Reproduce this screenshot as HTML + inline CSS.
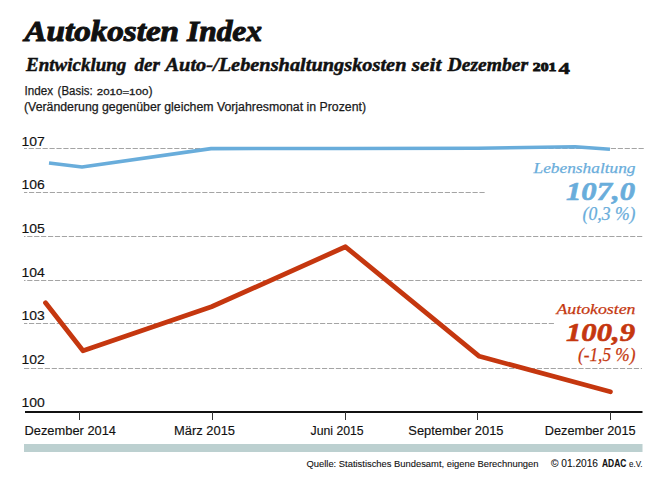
<!DOCTYPE html>
<html><head><meta charset="utf-8">
<style>
html,body{margin:0;padding:0;background:#fff;}
body{width:668px;height:490px;overflow:hidden;}
svg{display:block;}
text{font-family:"Liberation Sans",sans-serif;}
.serif{font-family:"Liberation Serif",serif;}
</style></head><body>
<svg width="668" height="490" viewBox="0 0 668 490">
<rect width="668" height="490" fill="#fff"/>
<!-- title -->
<g class="serif" font-size="28.5" font-weight="bold" font-style="italic" fill="#111" stroke="#111" stroke-width="1">
<text class="serif" x="24.5" y="41.4" textLength="154.5" lengthAdjust="spacingAndGlyphs">Autokosten</text>
<text class="serif" x="187" y="41.4" textLength="75" lengthAdjust="spacingAndGlyphs">Index</text>
</g>
<g class="serif" font-size="18.2" font-weight="bold" font-style="italic" fill="#111" stroke="#111" stroke-width="0.45">
<text id="s1" class="serif" x="26" y="71.3" textLength="100.3" lengthAdjust="spacingAndGlyphs">Entwicklung</text>
<text id="s2" class="serif" x="134.6" y="71.3" textLength="25.4" lengthAdjust="spacingAndGlyphs">der</text>
<text id="s3" class="serif" x="165.5" y="71.3" textLength="241" lengthAdjust="spacingAndGlyphs">Auto-/Lebenshaltungskosten</text>
<text id="s4" class="serif" x="411.8" y="71.3" textLength="29.5" lengthAdjust="spacingAndGlyphs">seit</text>
<text id="s5" class="serif" x="447.6" y="71.3" textLength="80.5" lengthAdjust="spacingAndGlyphs">Dezember</text>
<text id="s6" class="serif" x="532.8" y="70.9" font-size="13.3" font-style="normal" stroke-width="0.9" textLength="23.6" lengthAdjust="spacingAndGlyphs">201</text>
<text id="s7" class="serif" x="558.6" y="73.6" font-size="17" font-style="normal" stroke-width="0.6" textLength="11.4" lengthAdjust="spacingAndGlyphs">4</text>
</g>
<g fill="#1a1a1a" stroke="#1a1a1a" stroke-width="0.25">
<text id="i1" x="24.5" y="94.6" font-size="12.3" textLength="28.5" lengthAdjust="spacingAndGlyphs">Index</text>
<text id="i2" x="57.6" y="94.6" font-size="12.3" textLength="35" lengthAdjust="spacingAndGlyphs">(Basis:</text>
<text id="i3" x="96.8" y="94.6" font-size="9.5" stroke-width="0.3" textLength="51.5" lengthAdjust="spacingAndGlyphs">2010=100</text>
<text id="i4" x="148.6" y="94.6" font-size="12.3">)</text>
<text id="v1" x="24" y="110.5" font-size="12.3" textLength="342" lengthAdjust="spacingAndGlyphs">(Veränderung gegenüber gleichem Vorjahresmonat in Prozent)</text>
</g>

<!-- gridlines -->
<g stroke="#a4a4a4" stroke-width="1" stroke-dasharray="5.2 1.73" fill="none">
<line x1="24" y1="148.5" x2="644" y2="148.5" stroke-dashoffset="2.23"/>
<line x1="24" y1="192.5" x2="485" y2="192.5" stroke-dashoffset="1.93"/>
<line x1="24" y1="236.5" x2="643" y2="236.5" stroke-dashoffset="3.73"/>
<line x1="24" y1="280.5" x2="642" y2="280.5" stroke-dashoffset="3.73"/>
<line x1="24" y1="323.5" x2="554" y2="323.5" stroke-dashoffset="1.93"/>
<line x1="23" y1="368.5" x2="642" y2="368.5" stroke-dashoffset="5.93"/>
</g>
<!-- y labels -->
<g font-size="13" fill="#111" stroke="#111" stroke-width="0.15">
<text x="21.4" y="145.7" textLength="23.3" lengthAdjust="spacingAndGlyphs">107</text>
<text x="21.4" y="189.3" textLength="23.3" lengthAdjust="spacingAndGlyphs">106</text>
<text x="21.4" y="232.9" textLength="23.3" lengthAdjust="spacingAndGlyphs">105</text>
<text x="21.4" y="276.7" textLength="23.3" lengthAdjust="spacingAndGlyphs">104</text>
<text x="21.4" y="319.8" textLength="23.3" lengthAdjust="spacingAndGlyphs">103</text>
<text x="21.4" y="363.6" textLength="23.3" lengthAdjust="spacingAndGlyphs">102</text>
<text x="21.4" y="407" textLength="23.3" lengthAdjust="spacingAndGlyphs">100</text>
</g>
<!-- axis -->
<line x1="25" y1="412" x2="642.5" y2="412" stroke="#111" stroke-width="2"/>
<g stroke="#333" stroke-width="1">
<line x1="79.5" y1="412" x2="79.5" y2="420"/>
<line x1="212.5" y1="412" x2="212.5" y2="420"/>
<line x1="345.5" y1="412" x2="345.5" y2="420"/>
<line x1="477.5" y1="412" x2="477.5" y2="420"/>
<line x1="610.5" y1="412" x2="610.5" y2="420"/>
</g>
<g font-size="12.5" fill="#111" stroke="#111" stroke-width="0.15">
<text x="24.5" y="435" textLength="91.5" lengthAdjust="spacingAndGlyphs">Dezember 2014</text>
<text x="174" y="435" textLength="61" lengthAdjust="spacingAndGlyphs">März 2015</text>
<text x="310.5" y="435" textLength="53.2" lengthAdjust="spacingAndGlyphs">Juni 2015</text>
<text x="408.3" y="435" textLength="95.2" lengthAdjust="spacingAndGlyphs">September 2015</text>
<text x="544.8" y="435" textLength="90.8" lengthAdjust="spacingAndGlyphs">Dezember 2015</text>
</g>
<!-- bar -->
<rect x="24" y="444" width="618.5" height="8" fill="#bcd0d0"/>
<!-- footer -->
<g fill="#111" stroke="#111" stroke-width="0.1">
<text x="306.5" y="466.5" font-size="9.5" textLength="232" lengthAdjust="spacingAndGlyphs">Quelle: Statistisches Bundesamt, eigene Berechnungen</text>
<text x="551" y="466.5" font-size="10" textLength="47" lengthAdjust="spacingAndGlyphs">© 01.2016</text>
<text x="602" y="466.5" font-size="10.5" font-weight="bold" textLength="24.3" lengthAdjust="spacingAndGlyphs">ADAC</text>
<text x="629" y="466.5" font-size="9.5" textLength="13.5" lengthAdjust="spacingAndGlyphs">e.V.</text>
</g>

<!-- blue line -->
<polyline points="49,163 82,167 211,148.6 345,148.5 478,148.3 575,146.7 610,149.3" fill="none" stroke="#69addb" stroke-width="3.6" stroke-linejoin="round"/>
<!-- red line -->
<polyline points="45.5,302.8 83,350.8 211.5,306.8 345.5,246.8 479.3,356.3 610.4,391.8" fill="none" stroke="#c5370f" stroke-width="4.8" stroke-linejoin="round" stroke-linecap="round"/>

<!-- right labels -->
<g class="serif" fill="#69addb" stroke="#69addb" text-anchor="end" font-style="italic">
<text id="b1" class="serif" x="635.5" y="173.3" font-size="15.4" stroke-width="0.25" textLength="102" lengthAdjust="spacingAndGlyphs">Lebenshaltung</text>
<text id="b2" class="serif" x="635" y="199.8" font-size="25.5" font-weight="bold" stroke-width="0.6" textLength="69" lengthAdjust="spacingAndGlyphs">107,0</text>
<text id="b3" class="serif" x="635.5" y="220" font-size="18.3" stroke-width="0.25" textLength="53" lengthAdjust="spacingAndGlyphs">(0,3 %)</text>
</g>
<g class="serif" fill="#c5370f" stroke="#c5370f" text-anchor="end" font-style="italic">
<text id="r1" class="serif" x="635.5" y="314.1" font-size="15.2" stroke-width="0.25" textLength="79" lengthAdjust="spacingAndGlyphs">Autokosten</text>
<text id="r2" class="serif" x="635" y="340.7" font-size="25.5" font-weight="bold" stroke-width="0.6" textLength="69" lengthAdjust="spacingAndGlyphs">100,9</text>
<text id="r3" class="serif" x="635.5" y="361.3" font-size="18.3" stroke-width="0.25" textLength="57.5" lengthAdjust="spacingAndGlyphs">(-1,5 %)</text>
</g>
</svg>
</body></html>
